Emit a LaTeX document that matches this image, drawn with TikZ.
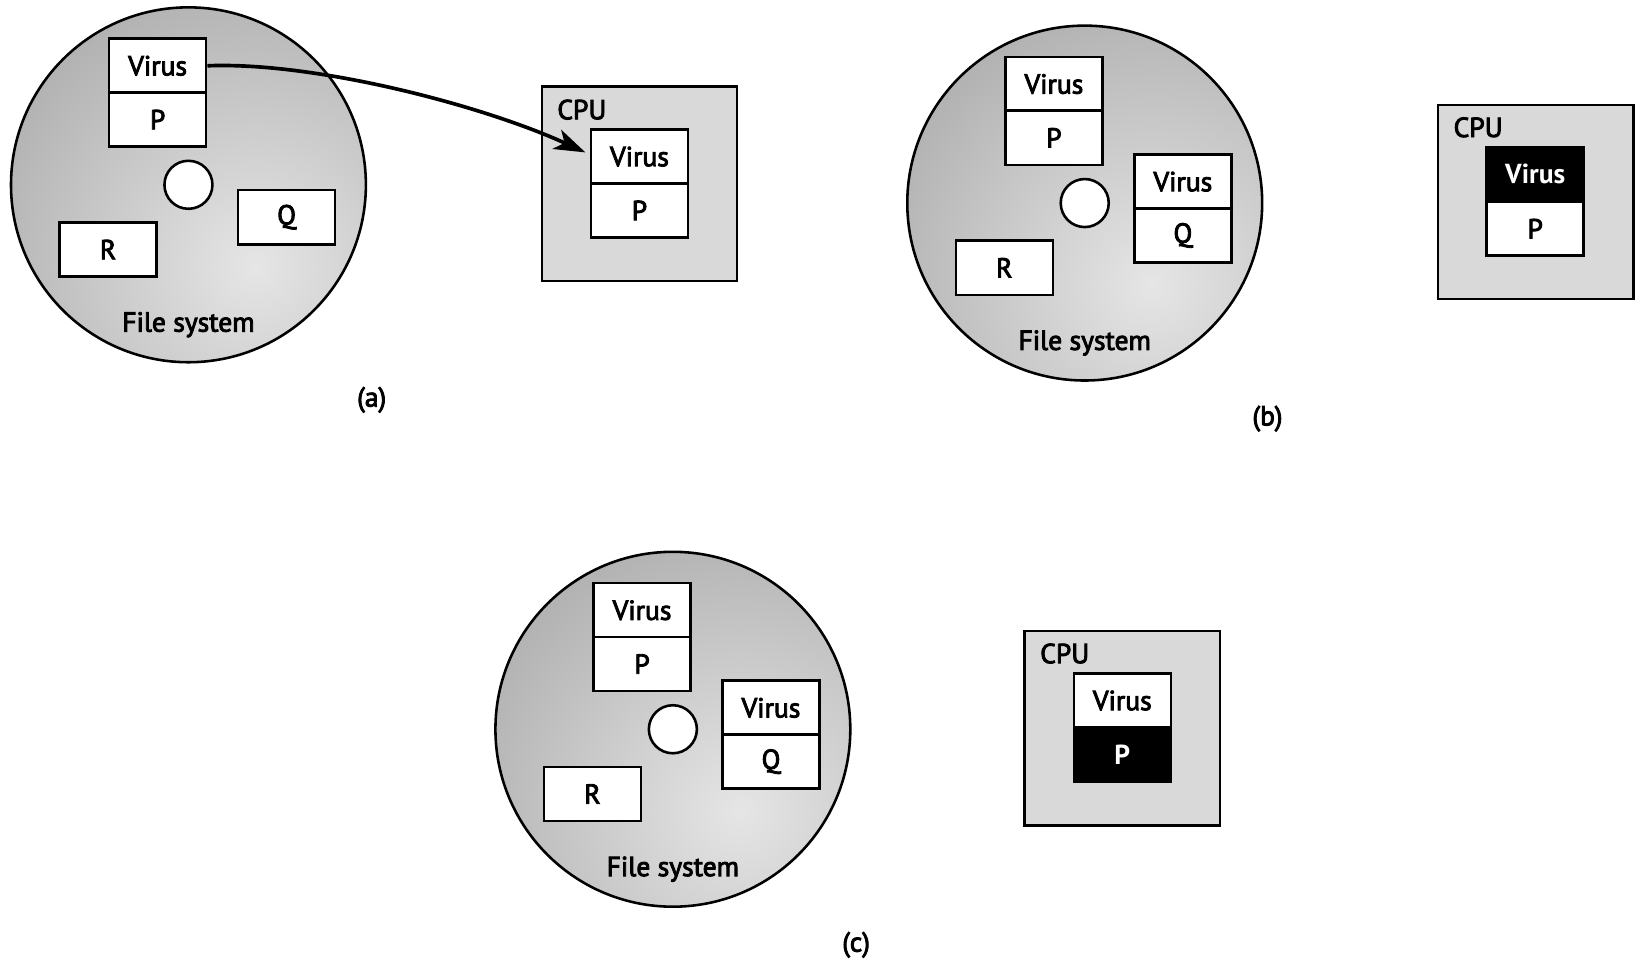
\documentclass[tikz,border=0pt]{standalone}
\usepackage{fontspec}
\setmainfont{PT Sans}
\newfontfamily\semib{PT Sans}[FakeBold=3.2]
\usetikzlibrary{arrows.meta}
\tikzset{
 cell/.style={draw, line width=1.4pt, fill=white, minimum width=1.86cm, minimum height=1.04cm, inner sep=0pt, font=\fontsize{15}{18}\selectfont\semib},
 blackcell/.style={cell, fill=black, text=white, font=\fontsize{15}{18}\selectfont\bfseries},
 cpubox/.style={draw, line width=1.4pt, fill=black!15, minimum width=3.74cm, minimum height=3.72cm, inner sep=0pt},
 hole/.style={circle, draw, line width=1.4pt, fill=white, minimum size=0.92cm, inner sep=0pt},
 lbl/.style={font=\fontsize{15}{18}\selectfont\semib, inner sep=0pt},
 diskline/.style={line width=1.4pt},
}
\newcommand\diskbg{%
 \begin{scope}
  \clip (0,0) circle (3.4cm);
  \shade[inner color=black!10, outer color=black!45] (64,78) circle (9.4cm);
 \end{scope}
 \draw[diskline] (0,0) circle (3.4cm);
}
\begin{document}
\begin{tikzpicture}[x=0.02cm,y=-0.02cm]
\useasboundingbox (0,0) rectangle (1568,920);
% ---------- panel (a)
\begin{scope}[shift={(180.5,177)}]
 \diskbg
 \node[hole] (ha) at (0,0) {};
 \node[cell] (va) at (-29.5,-114) {Virus};
 \node[cell] (pa) at (-29.5,-62.5) {P};
 \node[cell] (qa) at (94,31) {Q};
 \node[cell] (ra) at (-77,62) {R};
 \node[lbl] (fsa) at (0,134) {File system};
\end{scope}
\node[cpubox] (cpua) at (612.5,176) {};
\node[lbl, anchor=west] (cpula) at (533.5,105) {CPU};
\node[cell] (cva) at (612.5,150) {Virus};
\node[cell] (cpa) at (612.5,201.5) {P};
\draw[line width=2pt, -{Stealth[length=0.6cm,width=0.4cm,inset=0.16cm]}]
  (va.east) .. controls (300,59) and (460,100) .. ([xshift=-0.08cm,yshift=0.08cm]cva.west);
\node[lbl] (la) at (356,383) {(a)};
% ---------- panel (b)
\begin{scope}[shift={(1039,194.5)}]
 \diskbg
 \node[hole] (hb) at (0,0) {};
 \node[cell] (vb) at (-29.5,-114) {Virus};
 \node[cell] (pb) at (-29.5,-62.5) {P};
 \node[cell] (vqb) at (94,-20.5) {Virus};
 \node[cell] (qb) at (94,31) {Q};
 \node[cell] (rb) at (-77,62) {R};
 \node[lbl] (fsb) at (0,134) {File system};
\end{scope}
\node[cpubox] (cpub) at (1471,193.5) {};
\node[lbl, anchor=west] (cpulb) at (1392,122) {CPU};
\node[blackcell] (cvb) at (1470.5,167) {Virus};
\node[cell] (cpb) at (1470.5,219) {P};
\node[lbl] (lb) at (1214,401) {(b)};
% ---------- panel (c)
\begin{scope}[shift={(644.5,698.5)}]
 \diskbg
 \node[hole] (hc) at (0,0) {};
 \node[cell] (vc) at (-29.5,-114) {Virus};
 \node[cell] (pc) at (-29.5,-62.5) {P};
 \node[cell] (vqc) at (94,-20.5) {Virus};
 \node[cell] (qc) at (94,31) {Q};
 \node[cell] (rc) at (-77,62) {R};
 \node[lbl] (fsc) at (0,134) {File system};
\end{scope}
\node[cpubox] (cpuc) at (1075,697.5) {};
\node[lbl, anchor=west] (cpulc) at (996,626) {CPU};
\node[cell] (cvc) at (1075,671) {Virus};
\node[blackcell] (cpc) at (1075,723) {P};
\node[lbl] (lc) at (820,905) {(c)};
\end{tikzpicture}
\end{document}
